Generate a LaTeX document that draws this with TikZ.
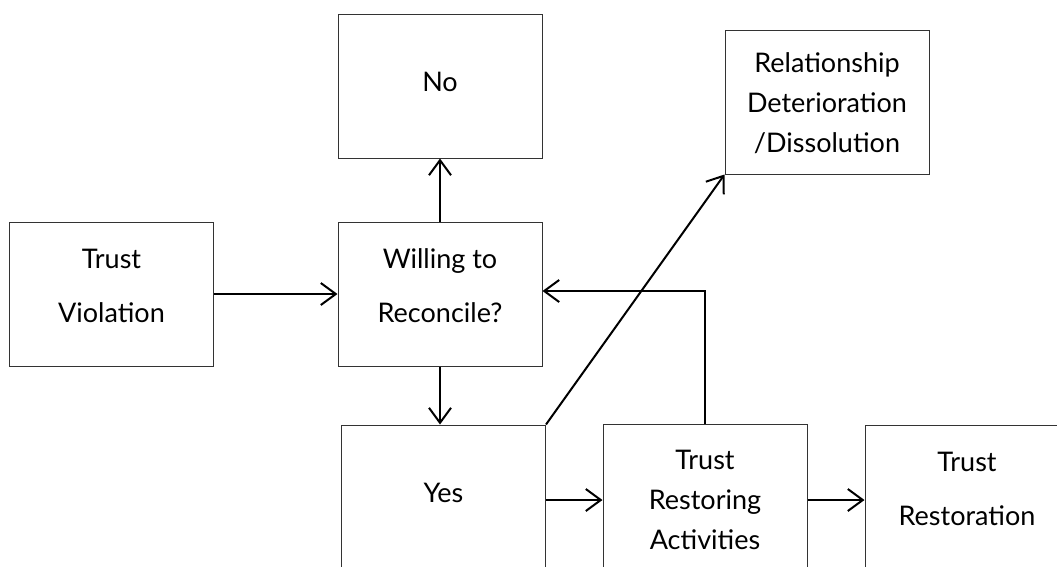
\documentclass[tikz,border=0pt]{standalone}
\usepackage{fontspec}
\setmainfont{Lato}
\usetikzlibrary{arrows.meta}
\begin{document}
\begin{tikzpicture}[x=1pt,y=1pt,
  box/.style={draw=black!80, line width=1pt, minimum width=204pt, minimum height=144pt, inner sep=0pt},
  txt/.style={inner sep=0pt, align=center, font=\fontsize{27}{40}\selectfont},
  arr/.style={line width=2pt, -{Straight Barb[length=15pt,width=22pt,line width=2pt]}}]
\useasboundingbox (0,0) rectangle (1057,-566);
\clip (0,0) rectangle (1057,-566);
\node[box] (no)  at (440,-86) {};
\node[box] (rel) at (827,-102) {};
\node[box] (tv)  at (111.5,-294) {};
\node[box] (w)   at (440,-294) {};
\node[box] (yes) at (443.5,-497) {};
\node[box] (tra) at (705,-496) {};
\node[box] (tr)  at (967,-497) {};
\node[txt] (not)  at ([yshift=4pt]no.center) {No};
\node[txt] (relt) at ([yshift=-1pt]rel.center) {Relationship\\Deterioration\\/Dissolution};
\node[txt] (tvt)  at ([yshift=8pt]tv.center) {Trust\\[14pt]Violation};
\node[txt] (wt)   at ([yshift=8pt]w.center) {Willing to\\[14pt]Reconcile?};
\node[txt] (yest) at ([yshift=4pt]yes.center) {Yes};
\node[txt] (trat) at ([yshift=-4pt]tra.center) {Trust\\Restoring\\Activities};
\node[txt] (trt)  at ([yshift=8pt]tr.center) {Trust\\[14pt]Restoration};
\draw[arr] (tv.east) -- (w.west);
\draw[arr] (w.north) -- (no.south);
\draw[arr] (w.south) -- (w.south |- yes.north);
\draw[arr] ([yshift=-3pt]yes.east) -- ([yshift=-3pt]yes.east -| tra.west);
\draw[arr] ([yshift=-3pt]yes.east -| tra.east) -- ([yshift=-3pt]yes.east -| tr.west);
\draw[arr] (yes.north east) -- (rel.south west);
\draw[arr] (tra.north) |- ([yshift=3pt]w.east);
\end{tikzpicture}
\end{document}
